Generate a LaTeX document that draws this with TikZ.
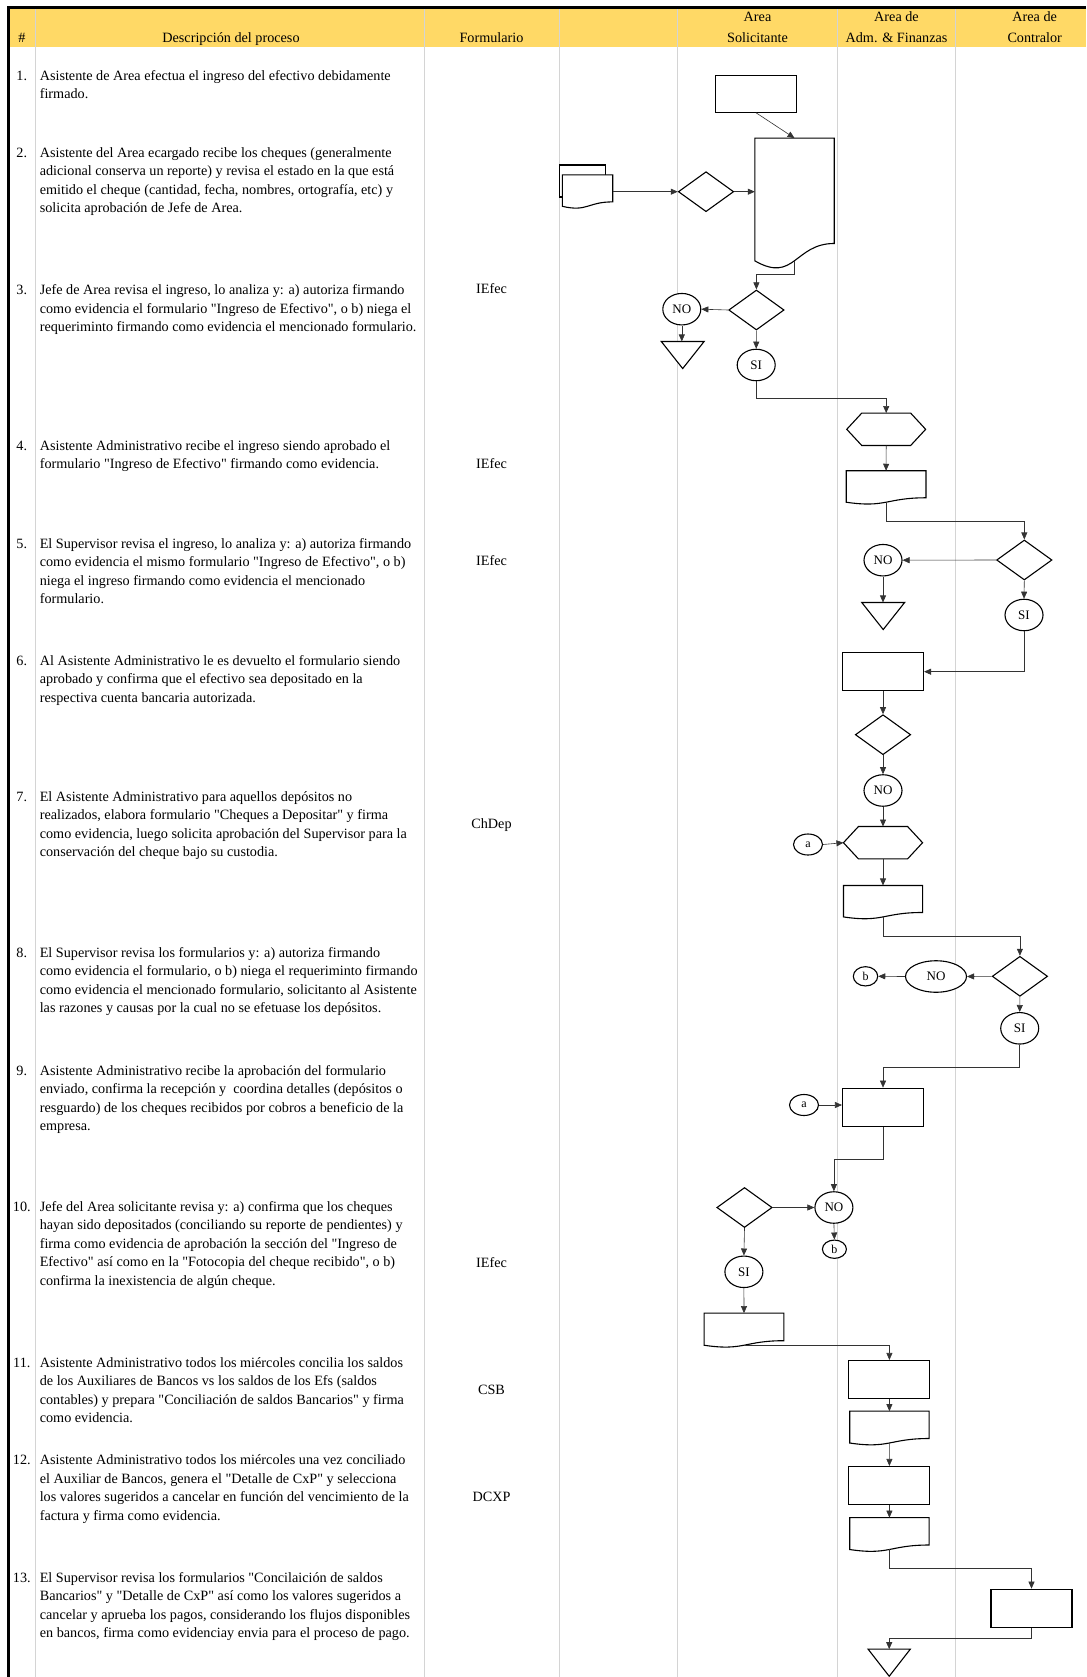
\documentclass[tikz,border=0pt]{standalone}
\usepackage{fontspec}
\setmainfont{Liberation Serif}[Ligatures=TeXOff]
\usetikzlibrary{positioning}
\usetikzlibrary{calc,shapes.geometric,arrows.meta}
\definecolor{headyellow}{HTML}{FFD966}
\tikzstyle{shapeline}=[draw=black,line width=1.1pt]
\tikzstyle{blankbox}=[rectangle,draw=none,inner sep=0pt]
\tikzstyle{procbox}=[rectangle,shapeline,fill=white,inner sep=0pt,minimum width=81pt,minimum height=38pt]
\tikzstyle{decision}=[diamond,shapeline,fill=white,inner sep=0pt,minimum width=55.4pt,minimum height=40pt]
\tikzstyle{answer}=[ellipse,shapeline,fill=white,inner sep=0pt,minimum width=38pt,minimum height=31.5pt,font=\fontsize{13}{13}\selectfont]
\tikzstyle{linkref}=[ellipse,shapeline,fill=white,inner sep=0pt,minimum width=29pt,minimum height=21pt,font=\fontsize{12}{12}\selectfont]
\tikzstyle{flow}=[draw=black!80,line width=0.6pt,-{Triangle[length=7pt,width=6pt]}]
\tikzstyle{gridline}=[draw=black!17,line width=1pt]
\tikzstyle{desc}=[anchor=north west,align=left,inner sep=0pt,font=\fontsize{14.2}{18.5}\selectfont]
\tikzstyle{numtext}=[anchor=north,inner sep=0pt,font=\fontsize{14.2}{18.5}\selectfont]
\tikzstyle{formtext}=[anchor=north,inner sep=0pt,font=\fontsize{14.2}{18.5}\selectfont]
\tikzstyle{headtext}=[anchor=north,align=center,inner sep=0pt,font=\fontsize{14.2}{20.5}\selectfont]
\newcommand{\fst}{\rule{0pt}{13pt}}
% wavy bottom of a document symbol
\newcommand{\docoutline}[1]{%
  \draw[shapeline,fill=white] (#1.north west) -- (#1.north east)
    -- ($(#1.north east)!0.802!(#1.south east)$)
    .. controls ($(#1.north)!0.802!(#1.south)$) and ($(#1.north)!1.108!(#1.south)$)
    .. ($(#1.north west)!0.934!(#1.south west)$) -- cycle;
  \coordinate (#1-b) at ($(#1.north)!0.933!(#1.south)$);}
\newcommand{\hexoutline}[1]{%
  \draw[shapeline,fill=white] (#1.west) -- ($(#1.north west)+(15,0)$) -- ($(#1.north east)+(-15,0)$)
    -- (#1.east) -- ($(#1.south east)+(-15,0)$) -- ($(#1.south west)+(15,0)$) -- cycle;}
\newcommand{\trioutline}[1]{%
  \draw[shapeline,fill=white] (#1.north west) -- (#1.north east) -- (#1.south) -- cycle;}

\begin{document}
\begin{tikzpicture}[x=1pt,y=-1pt]
    \useasboundingbox (0,0) rectangle (1086,1677);
    \fill[white] (0,0) rectangle (1086,1677);

    % header band and grid
    \fill[headyellow] (9,8.5) rectangle (1086,47);
    \foreach \x in {35,424,559,677,837,955}
        \draw[gridline] (\x,8) -- (\x,1677);
    \draw[line width=2.5pt] (7.4,7.5) -- (1086,7.5);
    \draw[line width=2.5pt] (8.6,6.3) -- (8.6,1677);

    \node[headtext] (hnum) at (21.8,29) {\fst\#};
    \node[headtext] (hdesc) at (231,29) {\fst Descripción del proceso};
    \node[headtext] (hform) at (491.5,29) {\fst Formulario};
    \node[headtext] (hsol) at (757.5,8.5) {\fst Area\\Solicitante};
    \node[headtext] (hadm) at (896.5,8.5) {\fst Area de\\Adm. \& Finanzas};
    \node[headtext] (hcon) at (1034.7,8.5) {\fst Area de\\Contralor};

    % step numbers and forms
    \foreach \n/\y in {1/75.7, 2/152.7, 3/290, 4/445.7, 5/543.3, 6/660.7, 7/796.7, 8/952.7, 9/1070.7, 10/1206.7, 11/1362.7, 12/1460, 13/1577.3}
        \node[numtext] (n\n) at (21.8,\y-8.5) {\fst\n.};
    \foreach \y/\lab/\nm in {289/IEfec/f3, 463.5/IEfec/f4, 560.7/IEfec/f5, 824/ChDep/f7, 1263/IEfec/f10, 1390/CSB/f11, 1497/DCXP/f12}
        \node[formtext] (\nm) at (491.5,\y-8.5) {\fst\lab};

    % descriptions
    \node[desc] (t1) at (39.6,67.2) {\fst Asistente de Area efectua el ingreso del efectivo debidamente\\firmado.};
    \node[desc] (t2) at (39.6,144.2) {\fst Asistente del Area ecargado recibe los cheques (generalmente\\adicional conserva un reporte) y revisa el estado en la que está\\emitido el cheque (cantidad, fecha, nombres, ortografía, etc) y\\solicita aprobación de Jefe de Area.};
    \node[desc] (t3) at (39.6,281.5) {\fst Jefe de Area revisa el ingreso, lo analiza y: a) autoriza firmando\\como evidencia el formulario "Ingreso de Efectivo", o b) niega el\\requeriminto firmando como evidencia el mencionado formulario.};
    \node[desc] (t4) at (39.6,437.2) {\fst Asistente Administrativo recibe el ingreso siendo aprobado el\\formulario "Ingreso de Efectivo" firmando como evidencia.};
    \node[desc] (t5) at (39.6,534.8) {\fst El Supervisor revisa el ingreso, lo analiza y: a) autoriza firmando\\como evidencia el mismo formulario "Ingreso de Efectivo", o b)\\niega el ingreso firmando como evidencia el mencionado\\formulario.};
    \node[desc] (t6) at (39.6,652.2) {\fst Al Asistente Administrativo le es devuelto el formulario siendo\\aprobado y confirma que el efectivo sea depositado en la\\respectiva cuenta bancaria autorizada.};
    \node[desc] (t7) at (39.6,788.2) {\fst El Asistente Administrativo para aquellos depósitos no\\realizados, elabora formulario "Cheques a Depositar" y firma\\como evidencia, luego solicita aprobación del Supervisor para la\\conservación del cheque bajo su custodia.};
    \node[desc] (t8) at (39.6,944.2) {\fst El Supervisor revisa los formularios y: a) autoriza firmando\\como evidencia el formulario, o b) niega el requeriminto firmando\\como evidencia el mencionado formulario, solicitanto al Asistente\\las razones y causas por la cual no se efetuase los depósitos.};
    \node[desc] (t9) at (39.6,1062.2) {\fst Asistente Administrativo recibe la aprobación del formulario\\enviado, confirma la recepción y\ \ coordina detalles (depósitos o\\resguardo) de los cheques recibidos por cobros a beneficio de la\\empresa.};
    \node[desc] (t10) at (39.6,1198.2) {\fst Jefe del Area solicitante revisa y: a) confirma que los cheques\\hayan sido depositados (conciliando su reporte de pendientes) y\\firma como evidencia de aprobación la sección del "Ingreso de\\Efectivo" así como en la "Fotocopia del cheque recibido", o b)\\confirma la inexistencia de algún cheque.};
    \node[desc] (t11) at (39.6,1354.2) {\fst Asistente Administrativo todos los miércoles concilia los saldos\\de los Auxiliares de Bancos vs los saldos de los Efs (saldos\\contables) y prepara "Conciliación de saldos Bancarios" y firma\\como evidencia.};
    \node[desc] (t12) at (39.6,1451.5) {\fst Asistente Administrativo todos los miércoles una vez conciliado\\el Auxiliar de Bancos, genera el "Detalle de CxP" y selecciona\\los valores sugeridos a cancelar en función del vencimiento de la\\factura y firma como evidencia.};
    \node[desc] (t13) at (39.6,1568.8) {\fst El Supervisor revisa los formularios "Concilaición de saldos\\Bancarios" y "Detalle de CxP" así como los valores sugeridos a\\cancelar y aprueba los pagos, considerando los flujos disponibles\\en bancos, firma como evidenciay envia para el proceso de pago.};

    % flowchart symbols
    \node[procbox,minimum height=37pt] (r1) at (756,93.7) {};

    \node[procbox,minimum width=45.5pt,minimum height=32pt] (md2b) at (582.3,181) {};
    \node[blankbox,minimum width=50pt,minimum height=33.3pt] (md2) at (587.5,191.7) {};
    \docoutline{md2}
    \node[decision] (dia2) at (706,191.7) {};
    \node[blankbox,minimum width=79pt,minimum height=131pt] (d2) at (794.5,203.8) {};
    \docoutline{d2}

    \node[decision] (dia3) at (756.4,310) {};
    \node[answer] (no3) at (681.8,309.2) {NO};
    \node[blankbox,minimum width=42.5pt,minimum height=26.7pt] (tri3) at (682.7,355) {};
    \trioutline{tri3}
    \node[answer] (si3) at (756.2,365) {SI};

    \node[blankbox,minimum width=78.5pt,minimum height=32pt] (hex4) at (886.2,429.3) {};
    \hexoutline{hex4}
    \node[blankbox,minimum width=79.4pt,minimum height=33.3pt] (doc4) at (886.1,487.6) {};
    \docoutline{doc4}

    \node[decision] (dia5) at (1024.3,560) {};
    \node[answer] (no5) at (883,560.2) {NO};
    \node[blankbox,minimum width=42.5pt,minimum height=26.7pt] (tri5) at (883.2,616) {};
    \trioutline{tri5}
    \node[answer] (si5) at (1024,615) {SI};

    \node[procbox] (r6) at (883,671.7) {};
    \node[decision] (dia6) at (883,734.7) {};
    \node[answer] (no6) at (883,790.5) {NO};

    \node[blankbox,minimum width=78.7pt,minimum height=32pt] (hex7) at (883,842.7) {};
    \hexoutline{hex7}
    \node[linkref] (a7) at (808,844.5) {a};
    \node[blankbox,minimum width=78.7pt,minimum height=33.3pt] (doc7) at (883,902.3) {};
    \docoutline{doc7}

    \node[decision] (dia8) at (1019.9,976.3) {};
    \node[answer,minimum width=61pt] (no8) at (936,976.5) {NO};
    \node[linkref,minimum width=24.4pt,minimum height=19.3pt] (b8) at (865.5,976.3) {b};
    \node[answer] (si8) at (1019.7,1028.3) {SI};

    \node[procbox] (r9) at (883,1107.2) {};
    \node[linkref] (a9) at (804,1105) {a};

    \node[answer] (no10) at (833.9,1207.5) {NO};
    \node[decision] (dia10) at (744.5,1207.5) {};
    \node[linkref,minimum width=24pt,minimum height=18.3pt] (b10) at (834.4,1249.2) {b};
    \node[answer] (si10) at (743.9,1271.8) {SI};
    \node[blankbox,minimum width=79.4pt,minimum height=34pt] (doc10) at (744,1330.3) {};
    \docoutline{doc10}

    \node[procbox] (r11) at (889.4,1379.5) {};
    \node[blankbox,minimum width=79pt,minimum height=33.7pt] (doc11) at (889.4,1428.2) {};
    \docoutline{doc11}
    \node[procbox] (r12) at (889.4,1485.5) {};
    \node[blankbox,minimum width=79pt,minimum height=33.7pt] (doc12) at (889.4,1534.7) {};
    \docoutline{doc12}
    \node[procbox] (r13) at (1031.5,1608.2) {};
    \node[blankbox,minimum width=41.8pt,minimum height=26.7pt] (tri13) at (889.2,1662.7) {};
    \trioutline{tri13}

    % connectors
    \draw[flow] (r1.south) -- (d2.north);
    \draw[flow] (md2.east) -- (dia2.west);
    \draw[flow] (dia2.east) -- (dia2.east -| d2.west);
    \draw[flow] (d2-b) -- ++(0,14) -| (dia3.north);
    \draw[flow] (dia3.west) -- (no3.east);
    \draw[flow] (no3.south) -- (no3.south |- tri3.north);
    \draw[flow] (dia3.south) -- (si3.north);
    \draw[flow] (si3.south) -- ++(0,16.6) -| (hex4.north);
    \draw[flow] (hex4.south) -- (doc4.north);
    \draw[flow] (doc4-b) -- ++(0,19.6) -| (dia5.north);
    \draw[flow] (dia5.west) -- (no5.east);
    \draw[flow] (no5.south) -- (no5.south |- tri5.north);
    \draw[flow] (dia5.south) -- (si5.north);
    \draw[flow] (si5.south) |- (r6.east);
    \draw[flow] (r6.south) -- (dia6.north);
    \draw[flow] (dia6.south) -- (no6.north);
    \draw[flow] (no6.south) -- (hex7.north);
    \draw[flow] (a7.east) -- (hex7.west);
    \draw[flow] (hex7.south) -- (doc7.north);
    \draw[flow] (doc7-b) -- ++(0,19.2) -| (dia8.north);
    \draw[flow] (dia8.west) -- (no8.east);
    \draw[flow] (no8.west) -- (b8.east);
    \draw[flow] (dia8.south) -- (si8.north);
    \draw[flow] (si8.south) -- ++(0,22.7) -| (r9.north);
    \draw[flow] (a9.east) -- (a9.east -| r9.west);
    \draw[flow] (r9.south) -- ++(0,32.3) -| (no10.north);
    \draw[flow] (dia10.east) -- (no10.west);
    \draw[flow] (no10.south) -- (b10.north);
    \draw[flow] (dia10.south) -- (si10.north);
    \draw[flow] (si10.south) -- (doc10.north);
    \draw[flow] (doc10-b) -| (r11.north);
    \draw[flow] (r11.south) -- (doc11.north);
    \draw[flow] (doc11-b) -- (r12.north);
    \draw[flow] (r12.south) -- (doc12.north);
    \draw[flow] (doc12-b) -- ++(0,19.2) -| (r13.north);
    \draw[flow] (r13.south) -- ++(0,11) -| (tri13.north);
\end{tikzpicture}
\end{document}
